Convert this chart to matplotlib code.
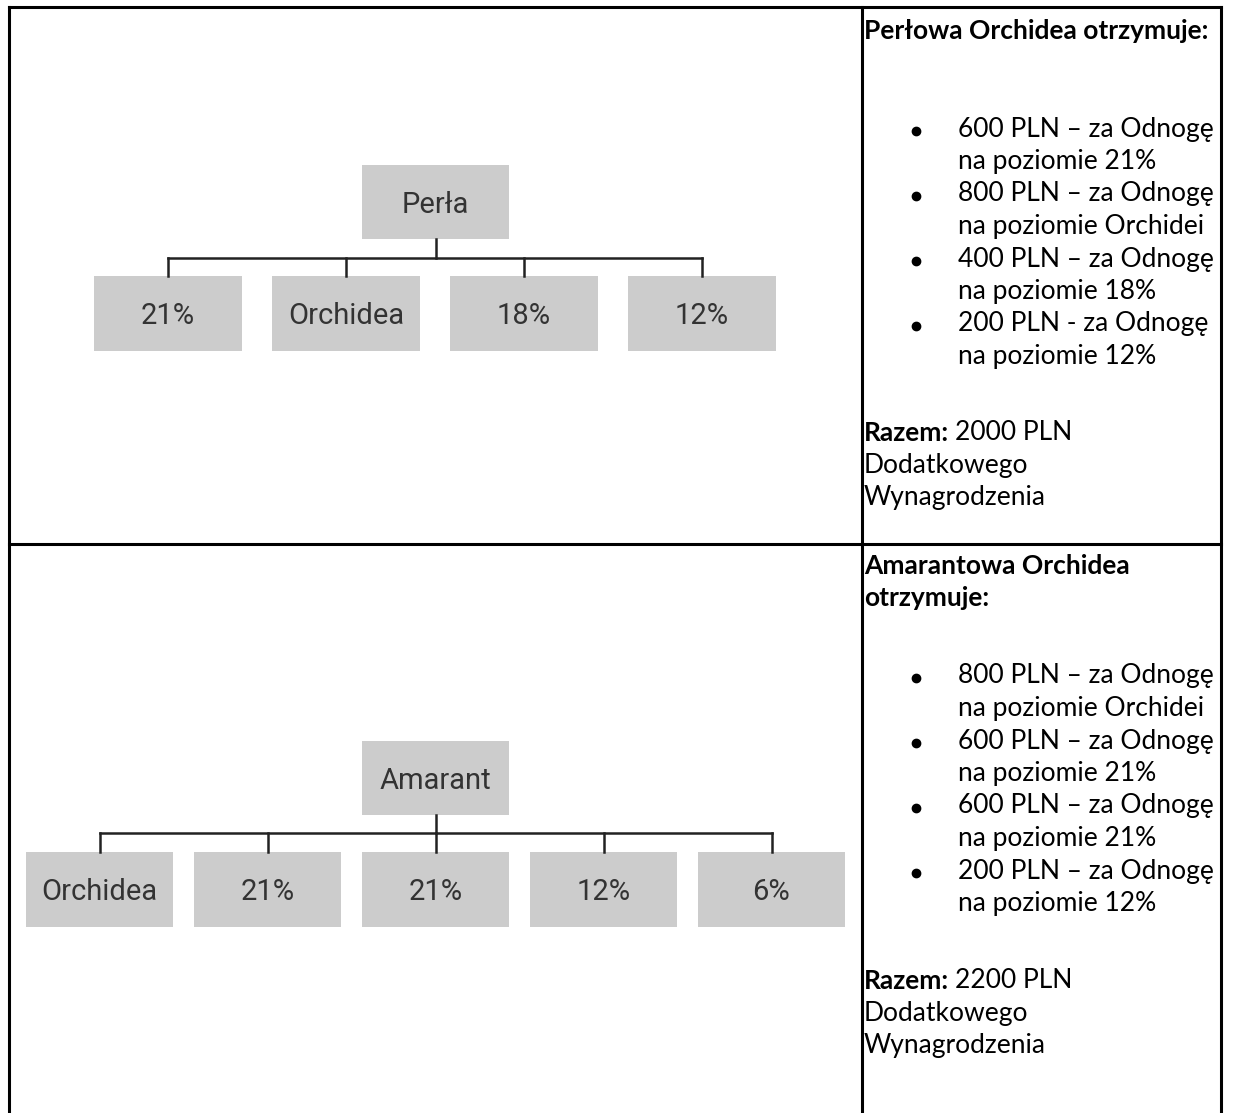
import matplotlib
matplotlib.use('Agg')
import matplotlib.pyplot as plt
from matplotlib.patches import Rectangle

## figure size in pixels (dpi 100)
W, H = 1237, 1113

## tree contents
top_parent = 'Perła'
top_children = ['21%', 'Orchidea', '18%', '12%']
bot_parent = 'Amarant'
bot_children = ['Orchidea', '21%', '21%', '12%', '6%']

## right column texts
top_title = ['Perłowa Orchidea otrzymuje:']
top_items = ['600 PLN – za Odnogę', 'na poziomie 21%',
             '800 PLN – za Odnogę', 'na poziomie Orchidei',
             '400 PLN – za Odnogę', 'na poziomie 18%',
             '200 PLN - za Odnogę', 'na poziomie 12%']
top_total = '2000 PLN'

bot_title = ['Amarantowa Orchidea', 'otrzymuje:']
bot_items = ['800 PLN – za Odnogę', 'na poziomie Orchidei',
             '600 PLN – za Odnogę', 'na poziomie 21%',
             '600 PLN – za Odnogę', 'na poziomie 21%',
             '200 PLN – za Odnogę', 'na poziomie 12%']
bot_total = '2200 PLN'

razem = 'Razem:'
tail = ['Dodatkowego', 'Wynagrodzenia']

BOX = '#cccccc'
TXT = '#333333'
TFONT = 'Roboto'
TSIZE = 21
RFONT = 'Lato'
RSIZE = 19

fig = plt.figure(figsize=(W / 100, H / 100), dpi=100)
ax = fig.add_axes([0, 0, 1, 1])
ax.set_xlim(0, W)
ax.set_ylim(H, 0)
ax.axis('off')

## table grid
lw = 2.2
ax.plot([9, 1221], [7, 7], color='k', lw=lw, solid_capstyle='projecting')
ax.plot([9, 862], [544, 544], color='k', lw=lw)
ax.plot([862, 1221], [544, 544], color='k', lw=lw)
ax.plot([9, 9], [7, H], color='k', lw=lw)
ax.plot([862, 862], [7, H], color='k', lw=lw)
ax.plot([1221, 1221], [7, H], color='k', lw=lw)


def draw_tree(parent, children, px, py, pw, ph, cx0, cy, cw, ch, step, bar_y):
    ax.add_patch(Rectangle((px, py), pw, ph, facecolor=BOX, edgecolor='none'))
    ax.text(px + pw / 2, py + ph / 2 + 3, parent, ha='center', va='center',
            fontsize=TSIZE, family=TFONT, color=TXT)
    centers = []
    for i, c in enumerate(children):
        x = cx0 + i * step
        ax.add_patch(Rectangle((x, cy), cw, ch, facecolor=BOX, edgecolor='none'))
        ax.text(x + cw / 2, cy + ch / 2 + 3, c, ha='center', va='center',
                fontsize=TSIZE, family=TFONT, color=TXT)
        centers.append(x + cw / 2)
    ax.plot([px + pw / 2, px + pw / 2], [py + ph, bar_y], color='#222222', lw=1.8)
    ax.plot([centers[0], centers[-1]], [bar_y, bar_y], color='#222222', lw=1.8)
    for c in centers:
        ax.plot([c, c], [bar_y, cy], color='#222222', lw=1.8)


draw_tree(top_parent, top_children, 362, 165, 147, 74, 94, 276, 148, 75, 178, 258)
draw_tree(bot_parent, bot_children, 362, 741, 147, 74, 26, 852, 147, 75, 168, 833)

fig.canvas.draw()
rend = fig.canvas.get_renderer()


def draw_cell(title, title_y, items, item_y, total, total_y):
    x0 = 864
    for t, y in zip(title, title_y):
        ax.text(x0, y, t, ha='left', va='center', fontsize=RSIZE,
                family=RFONT, weight='bold', color='k')
    for i, (t, y) in enumerate(zip(items, item_y)):
        ax.text(958, y, t, ha='left', va='center', fontsize=RSIZE,
                family=RFONT, color='k')
        if i % 2 == 0:
            ax.plot(916, y + 2, 'o', color='k', ms=6)
    r = ax.text(x0, total_y[0], razem, ha='left', va='center', fontsize=RSIZE,
                family=RFONT, weight='bold', color='k')
    bb = r.get_window_extent(renderer=rend)
    ax.text(bb.x1 + 6, total_y[0], total, ha='left', va='center',
            fontsize=RSIZE, family=RFONT, color='k')
    for t, y in zip(tail, total_y[1:]):
        ax.text(x0, y, t, ha='left', va='center', fontsize=RSIZE,
                family=RFONT, color='k')


step = 32.5
draw_cell(top_title, [31], top_items, [129 + i * step for i in range(8)],
          top_total, [433, 466, 498])
draw_cell(bot_title, [566, 598], bot_items, [676 + i * step for i in range(8)],
          bot_total, [981, 1013, 1046])

fig.savefig('out.png', dpi=100)
plt.close()
